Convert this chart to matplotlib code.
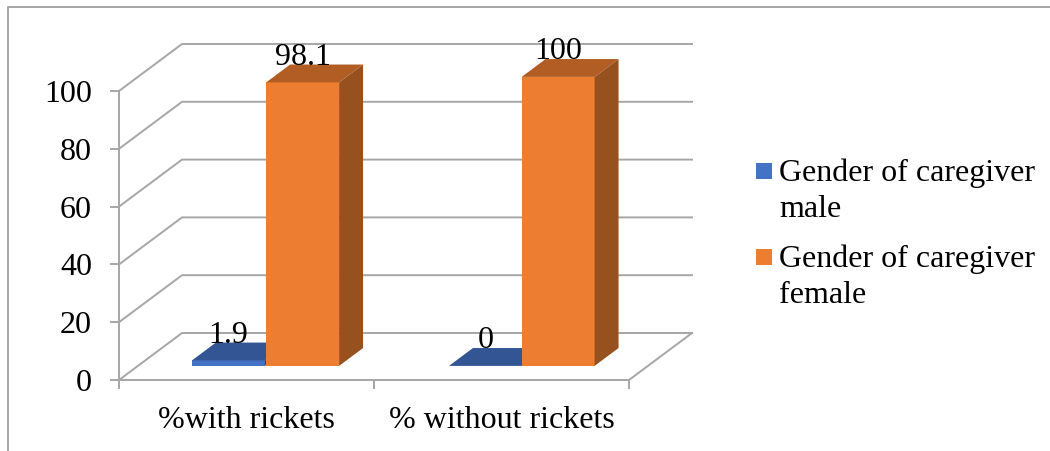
import matplotlib
matplotlib.use("Agg")
import matplotlib.pyplot as plt
from matplotlib.lines import Line2D
from matplotlib.patches import Rectangle

plt.rcParams['font.family'] = 'Liberation Serif'

# data
categories = ["%with rickets", "% without rickets"]
male = [1.9, 0]
female = [98.1, 100]
series_names = ["Gender of caregiver\nmale", "Gender of caregiver\nfemale"]
yticks = [0, 20, 40, 60, 80, 100]

# colours: front, top, side
blue = ("#4472C4", "#335593", "#2B4A80")
orange = ("#ED7D31", "#B25D24", "#97511E")
grid_col = "#A6A6A6"

W, H = 1050, 451
FS = 23
LW = 1.4

# oblique depth of the floor, in data units
depth_x = 63 / 255
depth_y = 47 / 2.89
bar_w = 0.286
bar_front = 0.30
bar_back = 0.68
male_left = [0.212, 1.22]
female_left = [0.503, 1.505]


def proj(x, v, d):
    return x + d * depth_x, v + d * depth_y


def draw_bar(ax, left, v, cols, z):
    x0, y0 = proj(left, 0, bar_front)
    x1 = x0 + bar_w
    if v > 0:
        ax.bar(x0, v, bar_w, bottom=y0, align='edge', color=cols[0], lw=0, zorder=z, clip_on=False)
    # top face
    xb, yb = proj(left, v, bar_back)
    ax.fill([x0, x1, xb + bar_w, xb], [y0 + v, y0 + v, yb, yb],
            color=cols[1], lw=0, zorder=z, clip_on=False)
    # side face
    xs, ys = proj(left + bar_w, 0, bar_back)
    ax.fill([x1, xs, xs, x1], [y0, ys, ys + v, y0 + v],
            color=cols[2], lw=0, zorder=z, clip_on=False)


fig = plt.figure(figsize=(W / 100, H / 100), dpi=100)
ax = fig.add_axes([119 / W, 1 - 380 / H, 510 / W, 289 / H])
ax.set_xlim(0, 2)
ax.set_ylim(0, 100)
ax.patch.set_visible(False)

# back wall and floor lines
for v in yticks:
    xb, yb = proj(0, v, 1)
    xe, _ = proj(2, v, 1)
    ax.plot([0, xb, xe], [v, yb, yb], color=grid_col, lw=LW, zorder=1, clip_on=False)
xb, yb = proj(2, 0, 1)
ax.plot([2, xb], [0, yb], color=grid_col, lw=LW, zorder=1, clip_on=False)

# bars, male first so the female bar sits in front
for i in range(len(categories)):
    draw_bar(ax, male_left[i], male[i], blue, 2)
    draw_bar(ax, female_left[i], female[i], orange, 3)

# value labels
for i in range(len(categories)):
    for left, v in [(male_left[i], male[i]), (female_left[i], female[i])]:
        x, _ = proj(left + bar_w / 2, 0, bar_front)
        _, y = proj(left, v, bar_back)
        ax.text(x, y, f"{v:g}", ha='center', va='baseline', fontsize=FS, color='black', zorder=5)

for s in ['top', 'right']:
    ax.spines[s].set_visible(False)
for s in ['left', 'bottom']:
    ax.spines[s].set_color(grid_col)
    ax.spines[s].set_linewidth(LW)

ax.set_yticks(yticks)
ax.set_xticks([0, 1, 2])
ax.set_xticklabels([])
ax.set_xticks([0.5, 1.5], minor=True)
ax.set_xticklabels(categories, minor=True)
ax.tick_params(axis='y', length=6.5, width=LW, color=grid_col, labelsize=FS, pad=13)
ax.tick_params(axis='x', which='major', length=6.5, width=LW, color=grid_col)
ax.tick_params(axis='x', which='minor', length=0, labelsize=FS, pad=19)

# legend, text is anchored on its last line
for name, col, y in zip(series_names, [blue[0], orange[0]], [163, 249]):
    fig.add_artist(Rectangle((756 / W, 1 - (y + 16) / H), 16 / W, 16 / H, color=col, lw=0))
    fig.text(779 / W, 1 - (y + 54) / H, name, fontsize=FS, va='baseline', ha='left', linespacing=1.32)

# chart frame, only top and left edges are in view
fig.add_artist(Line2D([8 / W, 8 / W, 1], [0, 1 - 7 / H, 1 - 7 / H], color=grid_col, lw=LW))

fig.savefig("out.png", dpi=100)
